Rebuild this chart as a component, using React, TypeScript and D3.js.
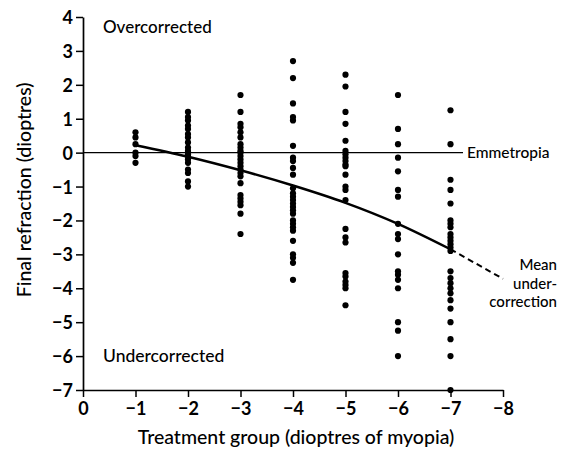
import * as d3 from "d3";
import { useRef, useEffect } from "react";

// treatment groups (dioptres of myopia)
const groups = [-1, -2, -3, -4, -5, -6, -7];

// final refraction readings per group
const g1 = [0.6, 0.45, 0.25, 0, -0.1, -0.3];
const g2 = [1.2, 1.05, 0.95, 0.8, 0.7, 0.55, 0.45, 0.3, 0.15, 0.05, 0, -0.05, -0.1, -0.2, -0.3, -0.5, -0.6, -0.85, -1.0];
const g3 = [1.7, 1.2, 0.85, 0.75, 0.6, 0.45, 0.25, 0.15, 0.05, 0, -0.1, -0.2, -0.3, -0.4, -0.5, -0.6, -0.7, -0.9, -1.25, -1.35, -1.45, -1.55, -1.8, -2.4];
const g4 = [2.7, 2.2, 1.45, 1.05, 0.95, 0.2, -0.15, -0.25, -0.45, -0.65, -1.05, -1.2, -1.3, -1.4, -1.5, -1.6, -1.7, -1.8, -2.0, -2.1, -2.2, -2.3, -2.6, -3.0, -3.1, -3.25, -3.75];
const g5 = [2.3, 1.95, 1.2, 0.85, 0.35, 0.05, -0.05, -0.15, -0.25, -0.35, -0.4, -0.65, -1.0, -1.1, -1.4, -2.25, -2.5, -2.65, -3.55, -3.65, -3.8, -3.9, -4.0, -4.5];
const g6 = [1.7, 0.7, 0.25, -0.15, -0.55, -1.1, -1.3, -2.1, -2.4, -2.55, -3.0, -3.5, -3.6, -3.75, -4.0, -5.0, -5.25, -6.0];
const g7 = [1.25, 0.25, -0.8, -1.1, -1.5, -2.0, -2.1, -2.2, -2.4, -2.5, -2.6, -2.7, -2.8, -2.9, -3.5, -3.7, -3.85, -4.0, -4.15, -4.35, -4.6, -5.0, -5.5, -6.0, -7.0];
const readings = [g1, g2, g3, g4, g5, g6, g7];

// mean under-correction curve (solid), then extrapolated (dashed)
const meanCurve = [0.22, -0.12, -0.52, -0.97, -1.48, -2.1, -2.85];
const meanExtX = [-7, -8];
const meanExtY = [-2.85, -3.72];

const xTicks = [0, -1, -2, -3, -4, -5, -6, -7, -8];
const yTicks = [4, 3, 2, 1, 0, -1, -2, -3, -4, -5, -6, -7];

const font = "Lato, 'Open Sans', sans-serif";

const App = () => {
  const container = useRef(null);

  useEffect(() => {
    let node = container.current;
    let width = 571;
    let height = 455;

    let xScale = d3.scaleLinear().domain([0, -8]).range([83, 503]);
    let yScale = d3.scaleLinear().domain([4, -7]).range([17, 390]);

    let svg = d3
      .select(node)
      .selectAll("svg")
      .data([0])
      .join("svg")
      .attr("width", width)
      .attr("height", height)
      .style("position", "absolute")
      .style("left", 0)
      .style("top", 0)
      .style("background", "white");

    // axes
    let yAxis = d3.axisLeft(yScale).tickValues(yTicks).tickSize(7).tickSizeOuter(0).tickFormat(d3.format("d"));
    let xAxis = d3.axisBottom(xScale).tickValues(xTicks).tickSize(7).tickSizeOuter(0).tickFormat(d3.format("d"));

    let yaxisg = svg
      .selectAll(".y-axis-g")
      .data([0])
      .join("g")
      .attr("class", "y-axis-g")
      .attr("transform", `translate(${xScale(0)},0)`)
      .call(yAxis);

    let xaxisg = svg
      .selectAll(".x-axis-g")
      .data([0])
      .join("g")
      .attr("class", "x-axis-g")
      .attr("transform", `translate(0,${yScale(-7)})`)
      .call(xAxis);

    [yaxisg, xaxisg].forEach((g) => {
      g.select(".domain").attr("stroke", "#000").attr("stroke-width", 1.7);
      g.selectAll(".tick line").attr("stroke", "#000").attr("stroke-width", 1.5);
      g.selectAll(".tick text")
        .attr("fill", "#000")
        .style("font-family", font)
        .style("font-size", "18px")
        .style("font-weight", 700);
    });
    yaxisg.selectAll(".tick text").attr("x", -10).attr("dy", "0.36em");
    xaxisg.selectAll(".tick text").attr("y", 12);

    // emmetropia reference line
    svg
      .selectAll(".zero-line")
      .data([0])
      .join("line")
      .attr("class", "zero-line")
      .attr("x1", xScale(0))
      .attr("x2", 463)
      .attr("y1", yScale(0))
      .attr("y2", yScale(0))
      .attr("stroke", "#000")
      .attr("stroke-width", 1.1);

    // data points
    let points = [];
    readings.forEach((vals, i) => {
      vals.forEach((v) => points.push({ x: groups[i], y: v }));
    });

    svg
      .selectAll(".dot")
      .data(points)
      .join("circle")
      .attr("class", "dot")
      .attr("cx", (d) => xScale(d.x))
      .attr("cy", (d) => yScale(d.y))
      .attr("r", 3.1)
      .attr("fill", "#000");

    // mean curve
    let lineGen = d3
      .line()
      .x((d) => xScale(d[0]))
      .y((d) => yScale(d[1]))
      .curve(d3.curveMonotoneX);

    svg
      .selectAll(".mean-line")
      .data([groups.map((g, i) => [g, meanCurve[i]])])
      .join("path")
      .attr("class", "mean-line")
      .attr("d", lineGen)
      .attr("fill", "none")
      .attr("stroke", "#000")
      .attr("stroke-width", 2.5);

    svg
      .selectAll(".mean-ext")
      .data([meanExtX.map((x, i) => [x, meanExtY[i]])])
      .join("path")
      .attr("class", "mean-ext")
      .attr("d", d3.line().x((d) => xScale(d[0])).y((d) => yScale(d[1])))
      .attr("fill", "none")
      .attr("stroke", "#000")
      .attr("stroke-width", 2)
      .attr("stroke-dasharray", "6,4");

    // labels
    let labels = [
      { t: "Overcorrected", x: 103, y: 33, a: "start", s: 17 },
      { t: "Undercorrected", x: 103, y: 362, a: "start", s: 17.5 },
      { t: "Emmetropia", x: 467, y: 158, a: "start", s: 15.5 },
      { t: "Mean", x: 557, y: 270, a: "end", s: 15 },
      { t: "under-", x: 557, y: 289, a: "end", s: 15 },
      { t: "correction", x: 557, y: 307, a: "end", s: 15 },
      { t: "Treatment group (dioptres of myopia)", x: 296, y: 444, a: "middle", s: 19.5 },
    ];

    svg
      .selectAll(".lbl")
      .data(labels)
      .join("text")
      .attr("class", "lbl")
      .attr("x", (d) => d.x)
      .attr("y", (d) => d.y)
      .attr("text-anchor", (d) => d.a)
      .style("font-family", font)
      .style("font-size", (d) => d.s + "px")
      .style("font-weight", 500)
      .text((d) => d.t);

    svg
      .selectAll(".y-title")
      .data([0])
      .join("text")
      .attr("class", "y-title")
      .attr("transform", `translate(31,${yScale(-1.1)})rotate(-90)`)
      .attr("text-anchor", "middle")
      .style("font-family", font)
      .style("font-size", "19.5px")
      .style("font-weight", 500)
      .text("Final refraction (dioptres)");
  });

  return <div ref={container}></div>;
};

export default App;
